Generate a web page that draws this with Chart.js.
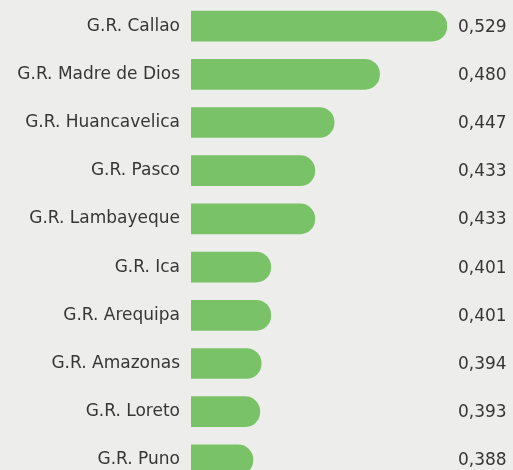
<!DOCTYPE html>
<html>
<head>
<meta charset="utf-8">
<script src="https://cdn.jsdelivr.net/npm/chart.js@4"></script>
<style>
  html, body { margin: 0; padding: 0; background: #edeeeb; overflow: hidden; }
  canvas { display: block; }
</style>
</head>
<body>
<canvas id="myChart" width="513" height="487"></canvas>
<script>
var regions = ['G.R. Callao', 'G.R. Madre de Dios', 'G.R. Huancavelica', 'G.R. Pasco', 'G.R. Lambayeque',
    'G.R. Ica', 'G.R. Arequipa', 'G.R. Amazonas', 'G.R. Loreto', 'G.R. Puno'];
var scores = [0.529, 0.480, 0.447, 0.433, 0.433, 0.401, 0.401, 0.394, 0.393, 0.388];

var FONT = '"DejaVu Sans", sans-serif';

// value labels at a fixed column on the right
var valueLabels = {
    id: 'valueLabels',
    afterDatasetsDraw: function (chart) {
        var ctx = chart.ctx;
        var meta = chart.getDatasetMeta(0);
        ctx.save();
        ctx.font = '17px ' + FONT;
        ctx.fillStyle = '#363636';
        ctx.textAlign = 'left';
        ctx.textBaseline = 'middle';
        meta.data.forEach(function (bar, i) {
            ctx.fillText(scores[i].toFixed(3).replace('.', ','), 458, bar.y + 1);
        });
        ctx.restore();
    }
};

var ctx = document.getElementById('myChart').getContext('2d');
var myChart = new Chart(ctx, {
    type: 'bar',
    data: {
        labels: regions,
        datasets: [{
            data: scores,
            backgroundColor: '#79c267',
            borderRadius: 20,
            barThickness: 30
        }]
    },
    options: {
        indexAxis: 'y',
        responsive: false,
        animation: false,
        layout: { padding: { top: 2, right: 66, bottom: 3, left: 0 } },
        plugins: {
            legend: { display: false },
            tooltip: { enabled: false }
        },
        scales: {
            x: {
                min: 0.343,
                max: 0.529,
                display: false
            },
            y: {
                grid: { display: false, drawTicks: false },
                border: { display: false },
                afterFit: function (scale) {
                    scale.width = 191;
                    scale.paddingTop = 0;
                    scale.paddingBottom = 0;
                },
                ticks: {
                    padding: 11,
                    color: '#363636',
                    font: { family: FONT, size: 17 }
                }
            }
        }
    },
    plugins: [valueLabels]
});
</script>
</body>
</html>
